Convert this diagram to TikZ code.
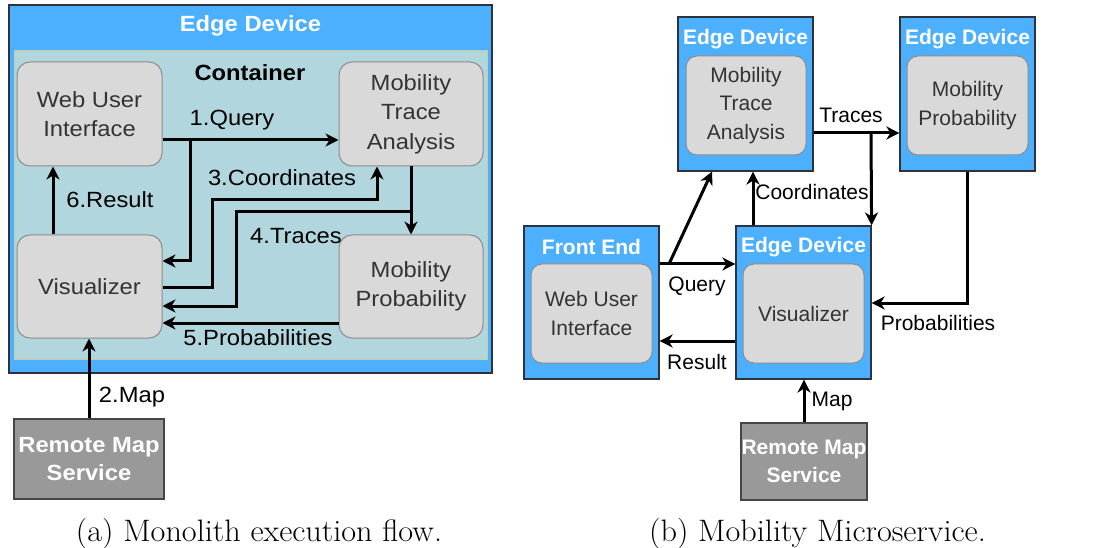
\documentclass[tikz,border=0pt]{standalone}
\usepackage{fontspec}
\newfontfamily\fa[FakeStretch=1.08]{Liberation Sans}
\newfontfamily\fb{Liberation Sans}
\newfontfamily\fcap[FakeStretch=1.04]{Latin Modern Roman}
\usetikzlibrary{arrows.meta}
\definecolor{edgeblue}{RGB}{77,176,255}
\definecolor{edgeline}{RGB}{45,50,60}
\definecolor{contfill}{RGB}{177,214,222}
\definecolor{contline}{RGB}{196,206,160}
\definecolor{boxgray}{RGB}{217,217,217}
\definecolor{boxline}{RGB}{140,140,140}
\definecolor{txtgray}{RGB}{51,51,51}
\definecolor{rmsfill}{RGB}{153,153,153}
\definecolor{rmsline}{RGB}{70,70,70}
\tikzset{
  edgebox/.style={draw=edgeline, fill=edgeblue, line width=1.2pt, inner sep=0pt},
  contbox/.style={draw=contline, fill=contfill, line width=1pt, inner sep=0pt},
  gboxa/.style={draw=boxline, fill=boxgray, line width=1pt, rounded corners=13pt, text=txtgray, align=center, inner sep=0pt, font=\fa\fontsize{22}{29.5}\selectfont},
  gboxb/.style={draw=boxline, fill=boxgray, line width=1pt, rounded corners=11pt, text=txtgray, align=center, inner sep=0pt, font=\fb\fontsize{21}{28.5}\selectfont},
  rmsbox/.style={draw=rmsline, fill=rmsfill, line width=1.2pt, text=white, align=center, inner sep=0pt},
  titlea/.style={text=white, font=\fa\bfseries\fontsize{22}{26}\selectfont, inner sep=0pt},
  titleb/.style={text=white, font=\fb\bfseries\fontsize{21}{25}\selectfont, inner sep=0pt},
  laba/.style={font=\fa\fontsize{22}{26}\selectfont, inner sep=0pt},
  labb/.style={font=\fb\fontsize{21}{25}\selectfont, inner sep=0pt},
  arr/.style={line width=3pt, -{Stealth[length=13pt,width=13pt,inset=4pt]}},
  capt/.style={font=\fcap\fontsize{31}{34}\selectfont, inner sep=0pt, anchor=base}
}
\begin{document}
\begin{tikzpicture}[x=1pt,y=-1pt]
\useasboundingbox (0,0) rectangle (1114,548);

% ---------------- Panel (a) ----------------
\node[edgebox, minimum width=483pt, minimum height=368pt] (edA) at (250.5,189) {};
\node[titlea] (edAt) at (250.5,26) {Edge Device};
\node[contbox, minimum width=473pt, minimum height=308pt] (cont) at (250.5,205) {};
\node[font=\fa\bfseries\fontsize{22}{26}\selectfont, inner sep=0pt] (contt) at (250,73) {Container};

\node[gboxa, minimum width=145pt, minimum height=104pt] (wuiA) at (89.5,114) {Web User\\Interface};
\node[gboxa, minimum width=144pt, minimum height=104pt] (mtaA) at (411,114) {Mobility\\Trace\\Analysis};
\node[gboxa, minimum width=145pt, minimum height=103pt] (visA) at (89.5,286.5) {Visualizer};
\node[gboxa, minimum width=144pt, minimum height=103pt] (mpA) at (411,286.5) {Mobility\\Probability};
\node[rmsbox, minimum width=150pt, minimum height=80pt, font=\fa\bfseries\fontsize{22}{28}\selectfont] (rmsA) at (89,459) {Remote Map\\Service};

% arrows (a)
\coordinate (qA) at (190,140);
\coordinate (tA) at (411,212);
\draw[arr] (wuiA.east |- qA) -- (mtaA.west |- qA);
\node[laba] (l1) at (232,120) {1.Query};
\draw[arr] (qA) -- (190,261) -- (visA.east |- 0,261);
\draw[arr] (visA.east |- 0,287) -- (212,287) -- (212,200) -- (377,200) -- (mtaA.south -| 377,0);
\node[laba] (l3) at (282,178) {3.Coordinates};
\draw[arr] (mtaA.south) -- (mpA.north);
\draw[arr] (tA) -- (236,212) -- (236,306) -- (visA.east |- 0,306);
\node[laba] (l4) at (296,236) {4.Traces};
\draw[arr] (mpA.west |- 0,323) -- (visA.east |- 0,323);
\node[laba] (l5) at (258,338) {5.Probabilities};
\draw[arr] (visA.north -| 53,0) -- (wuiA.south -| 53,0);
\node[laba] (l6) at (110,200) {6.Result};
\draw[arr] (rmsA.north) -- (visA.south -| rmsA.north);
\node[laba] (l2) at (132,397) {2.Map};

% ---------------- Panel (b) ----------------
\node[edgebox, minimum width=135pt, minimum height=154pt] (edMTA) at (745.5,94) {};
\node[titleb] (edMTAt) at (745.5,39) {Edge Device};
\node[gboxb, minimum width=120pt, minimum height=99pt] (mtaB) at (746,105.5) {Mobility\\Trace\\Analysis};

\node[edgebox, minimum width=135pt, minimum height=154pt] (edMP) at (967.5,94) {};
\node[titleb] (edMPt) at (967.5,39) {Edge Device};
\node[gboxb, minimum width=121pt, minimum height=99pt] (mpB) at (967.5,105.5) {Mobility\\Probability};

\node[edgebox, minimum width=135pt, minimum height=153pt] (edFE) at (591.5,302.5) {};
\node[titleb] (edFEt) at (591.5,247) {Front End};
\node[gboxb, minimum width=121pt, minimum height=99pt] (wuiB) at (591.5,313.5) {Web User\\Interface};

\node[edgebox, minimum width=135pt, minimum height=153pt] (edV) at (803.5,302.5) {};
\node[titleb] (edVt) at (803.5,247) {Edge Device};
\node[gboxb, minimum width=121pt, minimum height=99pt] (visB) at (803.5,313.5) {Visualizer};

\node[rmsbox, minimum width=126pt, minimum height=77pt, font=\fb\bfseries\fontsize{21}{28}\selectfont] (rmsB) at (804,461.5) {Remote Map\\Service};

% arrows (b)
\coordinate (qB) at (669,264);
\coordinate (tB) at (871,133);
\draw[arr] (edFE.east |- qB) -- (edV.west |- qB);
\node[labb] (lq) at (697,286) {Query};
\draw[arr] (qB) -- (edMTA.south -| 712,0);
\draw[arr] (edV.west |- 0,341) -- (edFE.east |- 0,341);
\node[labb] (lr) at (697,362) {Result};
\draw[arr] (edV.north -| 753,0) -- (edMTA.south -| 753,0);
\node[labb] (lc) at (812,192) {Coordinates};
\draw[arr] (edMTA.east |- tB) -- (edMP.west |- tB);
\node[labb] (lt) at (851,115) {Traces};
\draw[arr] (tB) -- (edV.north east);
\draw[arr] (edMP.south -| 967,0) -- (967,303) -- (edV.east |- 0,303);
\node[labb] (lp) at (938,323) {Probabilities};
\draw[arr] (rmsB.north) -- (edV.south -| rmsB.north);
\node[labb] (lm) at (832,401) {Map};

% captions
\node[capt] (capA) at (259,541) {(a) Monolith execution flow.};
\node[capt] (capB) at (817.5,541) {(b) Mobility Microservice.};
\end{tikzpicture}
\end{document}
